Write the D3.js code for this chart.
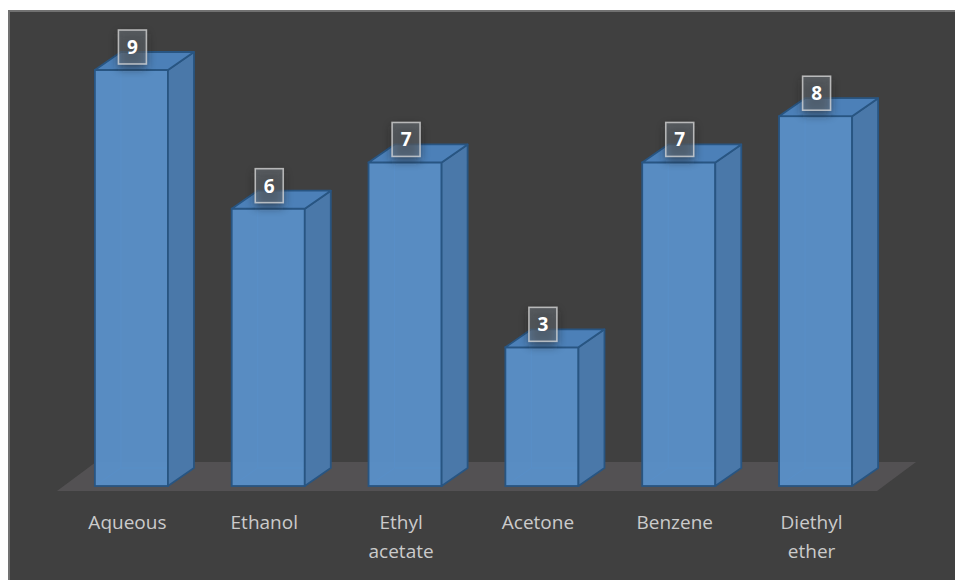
<!DOCTYPE html>
<html>
<head>
<meta charset="utf-8">
<script src="https://cdn.jsdelivr.net/npm/d3@7"></script>
<style>
  html, body { margin: 0; padding: 0; background: #fff; }
  svg { display: block; }
</style>
</head>
<body>
<div id="chart"></div>
<script>
var categories = ["Aqueous", "Ethanol", "Ethyl acetate", "Acetone", "Benzene", "Diethyl ether"];
var labelLines = [["Aqueous"], ["Ethanol"], ["Ethyl", "acetate"], ["Acetone"], ["Benzene"], ["Diethyl", "ether"]];
var values = [9, 6, 7, 3, 7, 8];

var W = 955, H = 580;
var depthX = 26, depthY = -18;

var svg = d3.select("#chart").append("svg")
  .attr("width", W)
  .attr("height", H);

var defs = svg.append("defs");
var glow = defs.append("filter").attr("id", "glow")
  .attr("x", "-60%").attr("y", "-60%").attr("width", "220%").attr("height", "220%");
glow.append("feGaussianBlur").attr("stdDeviation", 5);

// chart area background
svg.append("rect")
  .attr("x", 9).attr("y", 11)
  .attr("width", W - 8).attr("height", H - 10)
  .attr("fill", "#404040")
  .attr("stroke", "#717171")
  .attr("stroke-width", 2);

var x = d3.scaleBand()
  .domain(categories)
  .range([63, 884])
  .paddingInner(0.466)
  .paddingOuter(0.233);

var y = d3.scaleLinear()
  .domain([0, 9])
  .range([486, 70]);

// floor
var floorY0 = y(0) + 5, floorY1 = y(0) - 24;
svg.append("path")
  .attr("d", "M57," + floorY0 + "L877," + floorY0 + "L916," + floorY1 + "L96," + floorY1 + "Z")
  .attr("fill", "#535153");

var bars = svg.selectAll("g.bar")
  .data(values)
  .enter().append("g")
  .attr("class", "bar");

bars.each(function(v, i) {
  var g = d3.select(this);
  var x0 = x(categories[i]), x1 = x0 + x.bandwidth();
  var yt = y(v), yb = y(0);
  var stroke = "#285582";

  // hidden back edges
  g.append("path")
    .attr("d", "M" + (x0 + depthX) + "," + (yb + depthY) + "L" + (x0 + depthX) + "," + (yt + depthY) +
               "M" + (x0 + depthX) + "," + (yb + depthY) + "L" + (x1 + depthX) + "," + (yb + depthY) +
               "M" + (x0 + depthX) + "," + (yb + depthY) + "L" + x0 + "," + yb)
    .attr("fill", "none").attr("stroke", "#3a6a9c").attr("stroke-width", 1);

  // front
  g.append("rect")
    .attr("x", x0).attr("y", yt)
    .attr("width", x.bandwidth()).attr("height", yb - yt)
    .attr("fill", "#5a90c9").attr("fill-opacity", 0.95)
    .attr("stroke", stroke).attr("stroke-width", 1.8);

  // side
  g.append("path")
    .attr("d", "M" + x1 + "," + yt + "L" + (x1 + depthX) + "," + (yt + depthY) +
               "L" + (x1 + depthX) + "," + (yb + depthY) + "L" + x1 + "," + yb + "Z")
    .attr("fill", "#4a78a9")
    .attr("stroke", stroke).attr("stroke-width", 1.8).attr("stroke-linejoin", "round");

  // top
  g.append("path")
    .attr("d", "M" + x0 + "," + yt + "L" + (x0 + depthX) + "," + (yt + depthY) +
               "L" + (x1 + depthX) + "," + (yt + depthY) + "L" + x1 + "," + yt + "Z")
    .attr("fill", "#4c80b8")
    .attr("stroke", stroke).attr("stroke-width", 1.8).attr("stroke-linejoin", "round");

  // data label
  var cx = x0 + x.bandwidth() / 2 + 1;
  var by = yt - 40;
  g.append("rect")
    .attr("x", cx - 14).attr("y", by + 4)
    .attr("width", 28).attr("height", 34)
    .attr("fill", "#1e1e1e").attr("opacity", 0.6)
    .attr("filter", "url(#glow)");
  g.append("rect")
    .attr("x", cx - 14).attr("y", by)
    .attr("width", 28).attr("height", 34)
    .attr("fill", "rgba(120,128,138,0.45)")
    .attr("stroke", "rgba(220,220,220,0.75)")
    .attr("stroke-width", 1.6);
  g.append("text")
    .attr("x", cx).attr("y", by + 24)
    .attr("text-anchor", "middle")
    .attr("font-family", "'Open Sans', sans-serif")
    .attr("font-size", 19)
    .attr("font-weight", 700)
    .attr("fill", "#ffffff")
    .text(v);
});

// category labels
svg.selectAll("text.cat")
  .data(labelLines)
  .enter().append("text")
  .attr("class", "cat")
  .attr("text-anchor", "middle")
  .attr("font-family", "'Open Sans', sans-serif")
  .attr("font-size", 19)
  .attr("fill", "#cbcbcb")
  .attr("transform", function(d, i) {
    return "translate(" + (x(categories[i]) + x.bandwidth() / 2 - 4) + ",529)";
  })
  .selectAll("tspan")
  .data(function(d) { return d; })
  .enter().append("tspan")
  .attr("x", 0)
  .attr("dy", function(d, j) { return j === 0 ? 0 : 29; })
  .text(function(d) { return d; });
</script>
</body>
</html>
